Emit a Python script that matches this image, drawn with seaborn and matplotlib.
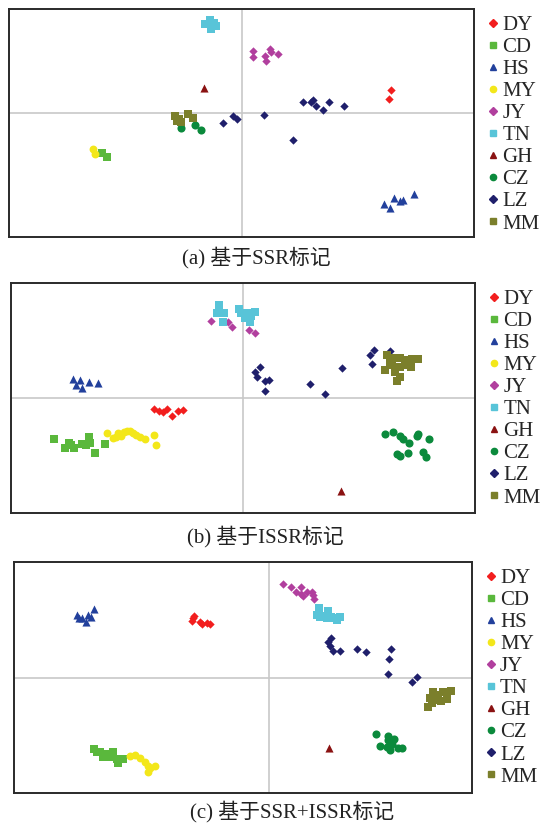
import matplotlib
matplotlib.use("Agg")
import matplotlib.pyplot as plt
import seaborn as sns
import pandas as pd

sns.set_theme(style="white")
plt.rcParams['font.family'] = ['Liberation Serif', 'Noto Sans CJK SC']

groups = ['DY', 'CD', 'HS', 'MY', 'JY', 'TN', 'GH', 'CZ', 'LZ', 'MM']
colors = ['#f21e1e', '#5ab83c', '#22409c', '#f3e71a', '#b13f9e',
          '#58c4d8', '#8a1212', '#0b8a3c', '#1f1f6b', '#7b7f2b']
markers = ['D', 's', '^', 'o', 'D', 's', '^', 'o', 'D', 's']
sizes = [18, 34, 34, 32, 18, 38, 34, 34, 18, 38]

# (a) SSR
ssr = {
    'DY': [(149, 23), (147, 14)],
    'CD': [(-140, -40), (-135, -44)],
    'HS': [(142, -91), (148, -95), (152, -85), (158, -88), (161, -87), (172, -81)],
    'MY': [(-149, -36), (-147, -41)],
    'JY': [(11, 62), (11, 56), (23, 57), (24, 52), (28, 64), (29, 61), (36, 59)],
    'TN': [(-37, 89), (-32, 93), (-28, 90), (-26, 87), (-31, 84), (-34, 89)],
    'GH': [(-38, 25)],
    'CZ': [(-61, -15), (-47, -12), (-41, -17)],
    'LZ': [(-19, -10), (-9, -3), (-5, -6), (22, -2), (61, 11), (69, 11), (71, 13),
           (74, 7), (81, 3), (87, 11), (102, 7), (51, -27)],
    'MM': [(-67, -3), (-63, -6), (-61, -9), (-54, -1), (-49, -5), (-65, -8)],
}

# (b) ISSR
issr = {
    'DY': [(-89, -11), (-84, -13), (-80, -14), (-76, -11), (-71, -18), (-65, -13), (-60, -12)],
    'CD': [(-189, -41), (-178, -50), (-174, -45), (-172, -47), (-169, -50), (-161, -46),
           (-157, -47), (-154, -39), (-153, -45), (-148, -55), (-138, -46)],
    'HS': [(-170, 19), (-163, 18), (-167, 13), (-161, 10), (-154, 16), (-145, 15)],
    'MY': [(-136, -35), (-130, -40), (-127, -39), (-125, -35), (-122, -38), (-119, -34),
           (-116, -33), (-113, -33), (-110, -35), (-107, -37), (-103, -39), (-98, -41),
           (-89, -37), (-87, -47)],
    'JY': [(-32, 77), (-15, 76), (-11, 71), (6, 68), (12, 65)],
    'TN': [(-24, 93), (-26, 85), (-19, 85), (-20, 76), (-4, 89), (-2, 85), (2, 80),
           (7, 76), (12, 86), (8, 82), (4, 85)],
    'GH': [(98, -93)],
    'CZ': [(142, -36), (150, -34), (157, -38), (160, -41), (166, -45), (174, -38),
           (175, -36), (186, -41), (154, -56), (157, -58), (165, -55), (180, -54), (183, -59)],
    'LZ': [(17, 31), (12, 26), (14, 21), (22, 17), (26, 18), (22, 7), (67, 14), (82, 4),
           (99, 30), (127, 43), (131, 48), (129, 34), (147, 47)],
    'MM': [(144, 43), (150, 40), (157, 40), (162, 38), (169, 39), (175, 39), (149, 33),
           (157, 31), (165, 33), (142, 28), (152, 26), (168, 31), (157, 21), (154, 17),
           (162, 36), (147, 36)],
}

# (c) SSR+ISSR
both = {
    'DY': [(-76, 60), (-77, 57), (-75, 62), (-69, 56), (-67, 54), (-62, 55), (-59, 54)],
    'CD': [(-175, -71), (-172, -74), (-169, -74), (-166, -79), (-161, -76), (-158, -79),
           (-156, -74), (-152, -81), (-151, -85), (-146, -81)],
    'HS': [(-192, 63), (-190, 60), (-187, 60), (-183, 56), (-181, 63), (-178, 61), (-175, 69)],
    'MY': [(-139, -78), (-134, -77), (-129, -80), (-124, -84), (-121, -88), (-119, -90),
           (-114, -88), (-121, -94)],
    'JY': [(14, 94), (22, 91), (27, 86), (32, 91), (32, 84), (34, 82), (38, 86), (43, 86),
           (44, 83), (45, 79)],
    'TN': [(50, 70), (48, 63), (51, 61), (54, 62), (58, 60), (59, 67), (62, 61), (66, 60),
           (68, 58), (71, 61)],
    'GH': [(60, -70)],
    'CZ': [(107, -56), (119, -58), (119, -62), (125, -61), (111, -68), (118, -69),
           (123, -66), (121, -72), (129, -70), (133, -70)],
    'LZ': [(62, 40), (59, 36), (61, 32), (64, 27), (71, 27), (88, 29), (97, 26), (122, 29),
           (120, 19), (119, 4), (143, -4), (148, 1)],
    'MM': [(164, -14), (169, -17), (174, -14), (182, -13), (161, -20), (168, -22),
           (172, -23), (178, -21), (163, -25), (159, -29)],
}

captions = ['(a) 基于SSR标记', '(b) 基于ISSR标记', '(c) 基于SSR+ISSR标记']

panels = [
    (ssr, [9 / 542, 1 - 237 / 825, 465 / 542, 228 / 825], (-233, 232), (-124, 104), (256, 258)),
    (issr, [11 / 542, 1 - 513 / 825, 464 / 542, 230 / 825], (-232, 232), (-115, 115), (265, 537)),
    (both, [14 / 542, 1 - 793 / 825, 458 / 542, 231 / 825], (-255, 203), (-115, 116), (292, 812)),
]

fig = plt.figure(figsize=(5.42, 8.25), dpi=100)

for (data, rect, xl, yl, cap_pos), cap in zip(panels, captions):
    ax = fig.add_axes(rect)
    ax.axhline(0, color='#c8c8c8', lw=1.2, zorder=0)
    ax.axvline(0, color='#c8c8c8', lw=1.2, zorder=0)
    handles = []
    for g, c, m, s in zip(groups, colors, markers, sizes):
        df = pd.DataFrame(data[g], columns=['x', 'y'])
        sns.scatterplot(data=df, x='x', y='y', ax=ax, color=c, marker=m, s=s,
                        linewidth=0, zorder=3)
        h = plt.Line2D([], [], ls='none', marker=m, color=c,
                       markersize=4.5 if m != 'D' else 3.6, label=g)
        handles.append(h)
    ax.set_xlim(*xl)
    ax.set_ylim(*yl)
    ax.set_xticks([])
    ax.set_yticks([])
    ax.set_xlabel('')
    ax.set_ylabel('')
    for sp in ax.spines.values():
        sp.set_color('#2a2a2a')
        sp.set_linewidth(1.4)
    ax.legend(handles=handles, loc='upper left', bbox_to_anchor=(1.015, 1.0),
              frameon=False, fontsize=15, handlelength=0.6, handletextpad=0.12,
              labelspacing=0.12, borderpad=0.1, borderaxespad=0.2)
    fig.text(cap_pos[0] / 542, 1 - cap_pos[1] / 825, cap, ha='center', va='center',
             fontsize=15, color='#222222')

fig.savefig('out.png', dpi=100)
